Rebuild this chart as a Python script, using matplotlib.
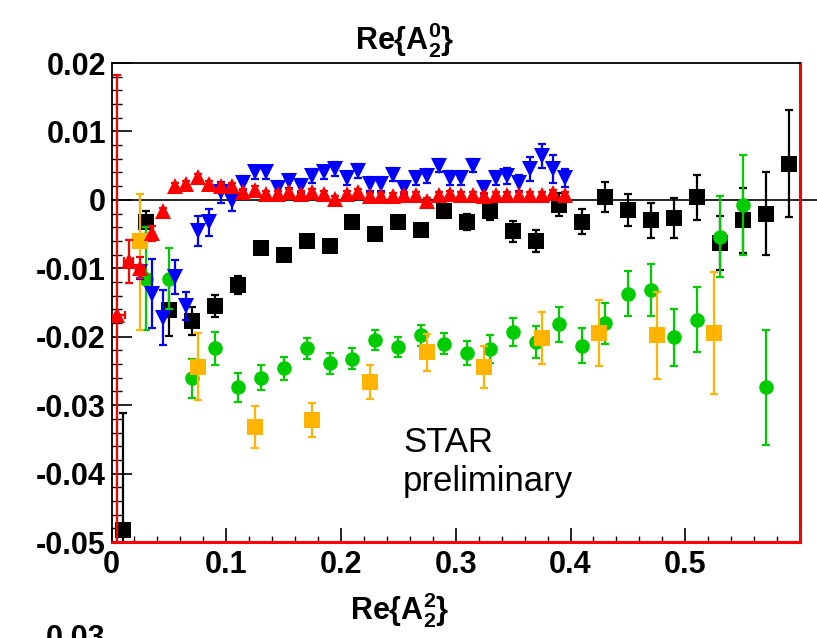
import numpy as np
import matplotlib.pyplot as plt

plt.rcParams['font.family'] = ['Liberation Sans', 'DejaVu Sans']
plt.rcParams['mathtext.fontset'] = 'custom'
plt.rcParams['mathtext.rm'] = 'Liberation Sans:bold'
plt.rcParams['mathtext.bf'] = 'Liberation Sans:bold'
plt.rcParams['mathtext.it'] = 'Liberation Sans:bold'
plt.rcParams['mathtext.default'] = 'bf'

# black squares
black_x = [0.01, 0.03, 0.05, 0.07, 0.09, 0.11, 0.13, 0.15, 0.17, 0.19, 0.21, 0.23, 0.25, 0.27, 0.29,
           0.31, 0.33, 0.35, 0.37, 0.39, 0.41, 0.43, 0.45, 0.47, 0.49, 0.51, 0.53, 0.55, 0.57, 0.59]
black_y = [-0.0483, -0.0033, -0.0161, -0.0177, -0.0155, -0.0124, -0.0070, -0.0080, -0.0060, -0.0067,
           -0.0033, -0.0050, -0.0033, -0.0044, -0.0016, -0.0032, -0.0016, -0.0046, -0.0060, -0.0007,
           -0.0032, 0.0004, -0.0015, -0.0030, -0.0027, 0.0004, -0.0063, -0.0030, -0.0020, 0.0053]
black_err = [0.0172, 0.0017, 0.0038, 0.0020, 0.0016, 0.0013, 0.0008, 0.0008, 0.0008, 0.0008,
             0.0008, 0.0008, 0.0008, 0.0009, 0.0010, 0.0012, 0.0013, 0.0015, 0.0016, 0.0017,
             0.0018, 0.0022, 0.0023, 0.0026, 0.0029, 0.0033, 0.0040, 0.0048, 0.0060, 0.0078]

# green circles
green_x = [0.03, 0.05, 0.07, 0.09, 0.11, 0.13, 0.15, 0.17, 0.19, 0.21, 0.23, 0.25, 0.27, 0.29,
           0.31, 0.33, 0.35, 0.37, 0.39, 0.41, 0.43, 0.45, 0.47, 0.49, 0.51, 0.53, 0.55, 0.57]
green_y = [-0.0115, -0.0115, -0.0261, -0.0217, -0.0274, -0.0260, -0.0246, -0.0217, -0.0239, -0.0232,
           -0.0205, -0.0215, -0.0198, -0.0210, -0.0224, -0.0218, -0.0193, -0.0208, -0.0182, -0.0213,
           -0.0180, -0.0137, -0.0132, -0.0201, -0.0175, -0.0054, -0.0007, -0.0274]
green_err = [0.0075, 0.0044, 0.0029, 0.0024, 0.0021, 0.0018, 0.0017, 0.0015, 0.0015, 0.0015,
             0.0015, 0.0015, 0.0015, 0.0015, 0.0018, 0.0020, 0.0020, 0.0023, 0.0025, 0.0026,
             0.0030, 0.0033, 0.0038, 0.0042, 0.0048, 0.0059, 0.0073, 0.0084]

# orange squares
orange_x = [0.025, 0.075, 0.125, 0.175, 0.225, 0.275, 0.325, 0.375, 0.425, 0.475, 0.525]
orange_y = [-0.0060, -0.0244, -0.0332, -0.0322, -0.0266, -0.0223, -0.0244, -0.0202, -0.0195, -0.0198, -0.0195]
orange_err_lo = [0.0130, 0.0049, 0.0031, 0.0025, 0.0025, 0.0027, 0.0031, 0.0038, 0.0048, 0.0064, 0.0089]
orange_err_hi = [0.0068, 0.0049, 0.0031, 0.0025, 0.0025, 0.0027, 0.0031, 0.0038, 0.0048, 0.0064, 0.0089]

# blue down triangles
blue_x = [0.025, 0.035, 0.045, 0.055, 0.065, 0.075, 0.085, 0.095, 0.105, 0.115, 0.125, 0.135, 0.145,
          0.155, 0.165, 0.175, 0.185, 0.195, 0.205, 0.215, 0.225, 0.235, 0.245, 0.255, 0.265, 0.275,
          0.285, 0.295, 0.305, 0.315, 0.325, 0.335, 0.345, 0.355, 0.365, 0.375, 0.385, 0.395]
blue_y = [-0.0105, -0.0137, -0.0172, -0.0113, -0.0155, -0.0046, -0.0033, 0.0011, -0.0002, 0.0025,
          0.0040, 0.0040, 0.0018, 0.0027, 0.0020, 0.0035, 0.0040, 0.0045, 0.0032, 0.0042,
          0.0023, 0.0023, 0.0037, 0.0018, 0.0032, 0.0035, 0.0050, 0.0032, 0.0032, 0.0050,
          0.0018, 0.0032, 0.0035, 0.0025, 0.0045, 0.0064, 0.0045, 0.0032]
blue_err = [0.0010, 0.0050, 0.0040, 0.0025, 0.0020, 0.0022, 0.0020, 0.0015, 0.0015, 0.0010,
            0.0010, 0.0010, 0.0010, 0.0010, 0.0010, 0.0010, 0.0010, 0.0010, 0.0010, 0.0010,
            0.0010, 0.0010, 0.0010, 0.0010, 0.0010, 0.0010, 0.0010, 0.0010, 0.0010, 0.0010,
            0.0010, 0.0010, 0.0012, 0.0012, 0.0017, 0.0018, 0.0020, 0.0013]

# red up triangles
red_x = [0.005, 0.015, 0.025, 0.035, 0.045, 0.055, 0.065, 0.075, 0.085, 0.095, 0.105, 0.115, 0.125,
         0.135, 0.145, 0.155, 0.165, 0.175, 0.185, 0.195, 0.205, 0.215, 0.225, 0.235, 0.245, 0.255,
         0.265, 0.275, 0.285, 0.295, 0.305, 0.315, 0.325, 0.335, 0.345, 0.355, 0.365, 0.375, 0.385, 0.395]
red_y = [-0.0168, -0.0090, -0.0099, -0.0049, -0.0017, 0.0020, 0.0023, 0.0033, 0.0023, 0.0020,
         0.0020, 0.0011, 0.0015, 0.0008, 0.0008, 0.0011, 0.0008, 0.0011, 0.0008, 0.0001,
         0.0008, 0.0011, 0.0005, 0.0005, 0.0005, 0.0007, 0.0007, -0.0002, 0.0007, 0.0008,
         0.0007, 0.0007, 0.0005, 0.0007, 0.0007, 0.0007, 0.0007, 0.0007, 0.0010, 0.0007]
red_err_lo = [0.0400, 0.0031, 0.0015, 0.0011] + [0.0005] * 36
red_err_hi = [0.0350, 0.0031, 0.0015, 0.0011] + [0.0005] * 36
red_xerr = [0.007, 0.004, 0.003] + [0.0] * 37

xticks = [0, 0.1, 0.2, 0.3, 0.4, 0.5]
xtick_labels = ['0', '0.1', '0.2', '0.3', '0.4', '0.5']
yticks = [-0.05, -0.04, -0.03, -0.02, -0.01, 0, 0.01, 0.02]
ytick_labels = ['-0.05', '-0.04', '-0.03', '-0.02', '-0.01', '0', '0.01', '0.02']

fig = plt.figure(figsize=(8.17, 6.38), dpi=100)
ax = fig.add_axes([111.5 / 817, 96 / 638, 688.5 / 817, 479 / 638])
ax.set_xlim(0, 0.6)
ax.set_ylim(-0.05, 0.02)

ax.plot([0, 0.63], [0, 0], color='black', lw=1.2, clip_on=False, zorder=1)

common = dict(fmt='none', capsize=2.8, elinewidth=1.6, capthick=1.6)
ax.errorbar(black_x, black_y, yerr=black_err, ecolor='black', zorder=2, **common)
ax.plot(black_x, black_y, 's', color='black', ms=11.3, mew=0, zorder=3)
ax.errorbar(green_x, green_y, yerr=green_err, ecolor='#00cc00', zorder=4, **common)
ax.plot(green_x, green_y, 'o', color='#00cc00', ms=10.5, mew=0, zorder=5)
ax.errorbar(orange_x, orange_y, yerr=[orange_err_lo, orange_err_hi], ecolor='#ffb400', zorder=6, **common)
ax.plot(orange_x, orange_y, 's', color='#ffb400', ms=11.3, mew=0, zorder=7)
ax.errorbar(blue_x, blue_y, yerr=blue_err, ecolor='#0000ff', zorder=8, **common)
ax.plot(blue_x, blue_y, 'v', color='#0000ff', ms=11.5, mew=0, zorder=9)
ax.errorbar(red_x, red_y, yerr=[red_err_lo, red_err_hi], xerr=red_xerr, ecolor='#ff0000', zorder=10, **common)
ax.plot(red_x, red_y, '^', color='#ff0000', ms=11, mew=0, zorder=11)

ax.text(0.254, -0.0368, 'STAR', fontsize=25, color='black', ha='left', va='baseline')
ax.text(0.254, -0.0426, 'preliminary', fontsize=25, color='black', ha='left', va='baseline')

ax.set_xticks(xticks)
ax.set_xticklabels(xtick_labels)
ax.set_yticks(yticks)
ax.set_yticklabels(ytick_labels)
ax.set_xticks(np.arange(0, 0.6, 0.02), minor=True)
ax.set_yticks(np.arange(-0.05, 0.0201, 0.002), minor=True)
ax.tick_params(axis='x', which='major', direction='in', length=10, width=1.2, pad=6,
               labelsize=22, top=False)
ax.tick_params(axis='x', which='minor', direction='in', length=4.5, width=1.0, top=False)
ax.tick_params(axis='y', which='major', direction='in', length=14.5, width=1.2, pad=4,
               labelsize=22, right=False)
ax.tick_params(axis='y', which='minor', direction='in', length=7, width=1.0, right=False)
for lab in ax.get_xticklabels() + ax.get_yticklabels():
    lab.set_fontweight('bold')

for s in ['left', 'top']:
    ax.spines[s].set_color('black')
    ax.spines[s].set_linewidth(1.3)
for s in ['bottom', 'right']:
    ax.spines[s].set_color('#ff0000')
    ax.spines[s].set_linewidth(2.2)

fig.text(405 / 817, 1 - 50 / 638, r'$Re\{A^0_2\}$', fontsize=22, ha='center', va='baseline')
fig.text(400 / 817, 1 - 620 / 638, r'$Re\{A^2_2\}$', fontsize=22, ha='center', va='baseline')
fig.text(105 / 817, 1 - 624 / 638, '0.03', fontsize=22, fontweight='bold', ha='right', va='top')

fig.savefig('out.png', dpi=100)
